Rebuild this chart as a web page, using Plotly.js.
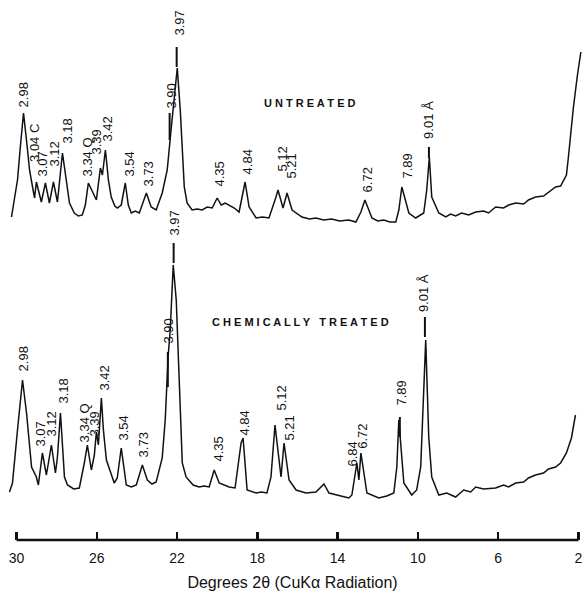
<!DOCTYPE html>
<html>
<head>
<meta charset="utf-8">
<script src="https://cdn.plot.ly/plotly-3.0.1.min.js"></script>
<style>html,body{margin:0;padding:0;background:#fff;}#chart{width:585px;height:591px;}</style>
</head>
<body>
<div id="chart"></div>
<script>
// ---- Data (2θ in degrees, intensity in arbitrary units above each trace's baseline)
const untreatedTwoTheta = [30.25,30.10,29.95,29.80,29.65,29.45,29.35,29.20,29.10,29.01,28.76,28.56,28.36,28.16,27.96,27.71,27.36,27.12,26.92,26.72,26.57,26.42,26.22,26.02,25.82,25.72,25.57,25.42,25.28,25.10,24.98,24.78,24.58,24.43,24.28,24.08,23.88,23.53,23.29,23.04,22.74,22.49,22.29,22.14,21.99,21.84,21.74,21.64,21.50,21.25,21.00,20.75,20.50,20.25,20.00,19.80,19.60,19.41,19.15,18.91,18.61,18.41,18.06,17.75,17.42,17.07,16.97,16.72,16.52,16.27,15.78,15.40,15.08,14.70,14.30,13.90,13.44,13.09,12.84,12.64,12.29,12.00,11.70,11.40,11.10,10.95,10.80,10.45,10.11,9.71,9.56,9.43,9.31,8.96,8.61,8.37,8.12,7.82,7.47,7.12,6.72,6.48,6.13,5.73,5.48,5.13,4.73,4.49,4.14,3.74,3.49,3.14,2.89,2.60,2.50,2.25,2.05,1.88];
const untreatedIntensity = [8,25,45,80,112,75,55,38,27,43,23,42,22,43,23,72,22,12,9,10,20,42,33,25,57,50,75,45,28,19,17,20,42,20,12,14,12,32,18,15,32,55,97,130,157,115,68,38,22,15,16,15,18,17,27,20,22,20,17,13,43,18,7,8,7,28,35,17,32,15,8,6,7,5,6,4,5,3,13,25,7,4,5,3,3,15,38,12,7,12,35,68,28,12,8,11,9,12,10,13,14,12,18,17,20,22,21,25,28,29,33,38,39,50,68,118,150,173];

const treatedTwoTheta = [30.35,30.20,29.95,29.70,29.50,29.25,29.01,28.91,28.71,28.51,28.26,28.06,27.96,27.81,27.61,27.46,27.15,26.87,26.62,26.47,26.27,26.12,26.02,25.92,25.77,25.67,25.52,25.13,24.98,24.78,24.53,24.28,24.03,23.73,23.48,23.25,23.04,22.74,22.59,22.44,22.34,22.19,22.04,21.94,21.79,21.74,21.55,21.20,20.90,20.65,20.40,20.15,19.90,19.65,19.41,19.11,18.81,18.71,18.51,18.06,17.80,17.52,17.32,17.12,16.82,16.67,16.42,16.07,15.58,15.08,14.68,14.43,13.90,13.44,13.29,13.09,13.04,12.94,12.84,12.54,12.20,11.95,11.55,11.20,11.05,10.95,10.70,10.31,10.06,9.86,9.61,9.46,9.31,8.96,8.56,8.12,7.72,7.37,7.12,6.73,6.13,5.73,5.48,5.13,4.73,4.49,4.14,3.74,3.49,3.14,2.89,2.60,2.35,2.15];
const treatedIntensity = [8,17,70,120,87,33,23,15,47,25,55,27,43,87,23,15,11,12,37,55,30,45,68,55,102,70,40,17,22,52,15,13,15,35,20,16,18,42,80,145,170,235,200,140,63,37,23,15,13,14,13,30,17,15,13,12,57,62,10,7,8,7,23,75,23,57,20,10,7,8,16,7,4,2,5,30,37,20,47,7,4,2,4,7,33,80,17,5,10,33,160,63,23,5,7,3,10,8,13,11,12,15,13,17,18,22,25,27,31,33,37,47,62,85];

// short peak-marker ticks drawn on the original chart
const untreatedMarkX = [22.37, 22.02, 9.45];
const untreatedMarkTop = [112, 178, 78];
const untreatedMarkBottom = [85, 158, 67];
const treatedMarkX = [22.46, 22.17, 9.65, 10.90];
const treatedMarkTop = [148, 257, 183, 83];
const treatedMarkBottom = [113, 237, 163, 63];

// peak labels (d-spacings, Å)
const untreatedLabels = ["2.98","3.04 C","3.07","3.12","3.18","3.34 Q","3.39","3.42","3.54","3.73","3.90","3.97","4.35","4.84","5.12","5.21","6.72","7.89","9.01 Å"];
const untreatedLabelX = [29.63,29.13,28.68,28.13,27.48,26.44,25.99,25.49,24.39,23.40,22.30,21.90,19.91,18.47,16.77,16.32,12.49,10.54,9.50];
const untreatedLabelY = [432,377,363,372,395,363,385,397,362,353,430,503,352,365,367,360,347,360,400];
const treatedLabels = ["2.98","3.07","3.12","3.18","3.34 Q","3.39","3.42","3.54","3.73","3.90","3.97","4.35","4.84","5.12","5.21","6.84","6.72","7.89","9.01 Å"];
const treatedLabelX = [29.63,28.78,28.28,27.68,26.59,26.09,25.64,24.69,23.65,22.45,22.15,19.96,18.66,16.82,16.42,13.28,12.77,10.84,9.74];
const treatedLabelY = [168,93,102,135,97,103,148,98,82,195,303,77,103,128,98,72,90,133,227];

const tickVals = [30,26,22,18,14,10,6,2];
const tickText = ["30","26","22","18","14","10","6","2"];

// ---- layout constants
const UPPER_OFFSET = 315;
const LOWER_OFFSET = 40;
const FONT = "Liberation Sans, Arial, Helvetica, sans-serif";

function shift(arr, off) { return arr.map(v => v + off); }
function markSegments(xs, tops, bots, off) {
  const x = [], y = [];
  xs.forEach((v, i) => { x.push(v, v, null); y.push(bots[i] + off, tops[i] + off, null); });
  return {x, y};
}
const um = markSegments(untreatedMarkX, untreatedMarkTop, untreatedMarkBottom, UPPER_OFFSET);
const tm = markSegments(treatedMarkX, treatedMarkTop, treatedMarkBottom, LOWER_OFFSET);

const traces = [
  {x: untreatedTwoTheta, y: shift(untreatedIntensity, UPPER_OFFSET), mode: 'lines', name: 'Untreated',
   line: {color: '#111', width: 1.5}, hoverinfo: 'skip'},
  {x: treatedTwoTheta, y: shift(treatedIntensity, LOWER_OFFSET), mode: 'lines', name: 'Chemically treated',
   line: {color: '#111', width: 1.5}, hoverinfo: 'skip'},
  {x: um.x.concat(tm.x), y: um.y.concat(tm.y), mode: 'lines', line: {color: '#111', width: 2}, hoverinfo: 'skip', connectgaps: false}
];

const annotations = [];
function addLabels(texts, xs, ys) {
  texts.forEach((t, i) => annotations.push({
    text: t, x: xs[i], y: ys[i], xref: 'x', yref: 'y', showarrow: false,
    textangle: -90, xanchor: 'center', yanchor: 'bottom',
    font: {family: FONT, size: 13, color: '#111'}, borderpad: 0
  }));
}
addLabels(untreatedLabels, untreatedLabelX, untreatedLabelY);
addLabels(treatedLabels, treatedLabelX, treatedLabelY);
annotations.push({text: 'U N T R E A T E D', x: 15.38, y: 437, xref: 'x', yref: 'y', showarrow: false,
  font: {family: FONT, size: 11, color: '#111', weight: 'bold'}});
annotations.push({text: 'C H E M I C A L L Y &nbsp; T R E A T E D', x: 15.87, y: 218, xref: 'x', yref: 'y', showarrow: false,
  font: {family: FONT, size: 11, color: '#111', weight: 'bold'}});

const layout = {
  width: 585, height: 591,
  margin: {l: 0, r: 0, t: 0, b: 51},
  paper_bgcolor: '#fff', plot_bgcolor: '#fff',
  showlegend: false,
  xaxis: {
    range: [30.822, 1.674], tickvals: tickVals, ticktext: tickText,
    ticks: 'inside', ticklen: 8, tickwidth: 2.5, tickcolor: '#111',
    showline: false, showgrid: false, zeroline: false,
    tickfont: {family: FONT, size: 14, color: '#111'},
    ticklabelstandoff: 8,
    title: {text: 'Degrees 2θ (CuKα Radiation)', font: {family: FONT, size: 16, color: '#111'}, standoff: 12}
  },
  yaxis: {range: [0, 540], visible: false, showgrid: false, zeroline: false},
  shapes: [{type: 'line', xref: 'x', yref: 'paper', x0: 30, x1: 2, y0: 0, y1: 0,
    line: {color: '#111', width: 2.5}}],
  annotations: annotations
};

Plotly.newPlot('chart', traces, layout, {displayModeBar: false, staticPlot: true});
</script>
</body>
</html>
